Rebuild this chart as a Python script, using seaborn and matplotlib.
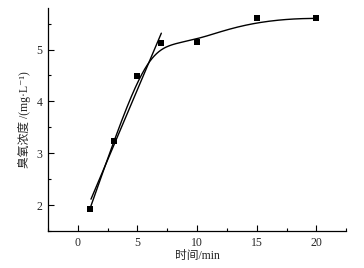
import numpy as np
import pandas as pd
import matplotlib
matplotlib.use("Agg")
import matplotlib.pyplot as plt
import seaborn as sns
from matplotlib.ticker import MultipleLocator

time_min = [1, 3, 5, 7, 10, 15, 20]
ozone = [1.92, 3.23, 4.48, 5.12, 5.15, 5.60, 5.60]
fit_points = 4  # linear fit over the first four points
x_ticks = [0, 5, 10, 15, 20]
y_ticks = [2, 3, 4, 5]

sns.set_theme(style="ticks")
plt.rcParams['font.family'] = ['Liberation Serif', 'Noto Sans CJK SC', 'DejaVu Serif']
plt.rcParams['axes.unicode_minus'] = False


def bspline(px, py, n=300):
    P = np.column_stack([px, py]).astype(float)
    k = 3
    m = len(P)
    inner = np.arange(1, m - k)
    knots = np.concatenate([[0] * (k + 1), inner, [m - k] * (k + 1)]).astype(float)
    ts = np.linspace(0, m - k, n)
    ts[-1] -= 1e-9
    out = []
    for t in ts:
        j = np.searchsorted(knots, t, side='right') - 1
        d = [P[j - k + r].copy() for r in range(k + 1)]
        for r in range(1, k + 1):
            for i in range(k, r - 1, -1):
                ii = i + j - k
                a = (t - knots[ii]) / (knots[ii + 1 + k - r] - knots[ii])
                d[i] = (1 - a) * d[i - 1] + a * d[i]
        out.append(d[k])
    out = np.array(out)
    return out[:, 0], out[:, 1]


sx, sy = bspline(time_min, ozone)
curve = pd.DataFrame({"t": sx, "c": sy})

fx = np.array(time_min[:fit_points], dtype=float)
fy = np.array(ozone[:fit_points], dtype=float)
slope, icpt = np.polyfit(fx, fy, 1)
lin_x = np.linspace(fx[0] + 0.1, fx[-1], 50)
lin = pd.DataFrame({"t": lin_x, "c": slope * lin_x + icpt})

pts = pd.DataFrame({"t": time_min, "c": ozone})

fig = plt.figure(figsize=(3.64, 2.68), dpi=100)
ax = fig.add_axes([0.132, 0.138, 0.819, 0.832])

sns.lineplot(data=curve, x="t", y="c", ax=ax, color="black", linewidth=1.0, sort=False, estimator=None)
sns.lineplot(data=lin, x="t", y="c", ax=ax, color="black", linewidth=1.0, sort=False, estimator=None)
sns.scatterplot(data=pts, x="t", y="c", ax=ax, marker="s", color="black", s=22, edgecolor="black", linewidth=0, zorder=5)

ax.set_xlim(-2.5, 22.5)
ax.set_ylim(1.5, 5.8)
ax.set_xticks(x_ticks)
ax.set_yticks(y_ticks)
ax.xaxis.set_minor_locator(MultipleLocator(2.5))
ax.yaxis.set_minor_locator(MultipleLocator(0.5))
ax.tick_params(which="major", direction="in", length=4, width=0.8, labelsize=8.5, color="black", pad=4)
ax.tick_params(which="minor", direction="in", length=2, width=0.8, color="black")
ax.set_xticklabels([str(v) for v in x_ticks])
ax.set_yticklabels([str(v) for v in y_ticks])
for s in ["top", "right"]:
    ax.spines[s].set_visible(False)
for s in ["left", "bottom"]:
    ax.spines[s].set_linewidth(0.9)
    ax.spines[s].set_color("black")

ax.set_xlabel("时间/min", fontsize=8.5, labelpad=1)
ax.set_ylabel("臭氧浓度 /(mg·L\u207b\u00b9)", fontsize=8.5, labelpad=4)

fig.savefig("out.png", dpi=100)
